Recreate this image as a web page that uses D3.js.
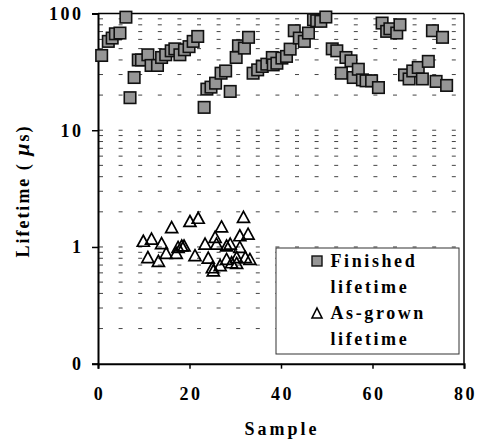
<!DOCTYPE html>
<html><head><meta charset="utf-8">
<script src="https://cdn.jsdelivr.net/npm/d3@7"></script>
<style>
html,body{margin:0;padding:0;background:#fff;}
</style></head>
<body><svg id="c" width="480" height="444"></svg>
<script>
// Finished lifetime (squares)
const finishedX = [0.8,2.25,3.1,3.8,4.8,6.1,7.0,7.9,8.8,9.5,10.9,11.6,13.0,13.9,14.8,16.0,16.8,17.9,18.9,19.9,20.8,21.8,
  23.2,23.8,24.7,25.7,26.9,27.9,28.9,30.2,30.7,32.0,32.9,33.9,34.9,35.9,36.9,38.1,38.3,39.1,40.2,41.2,42.0,42.9,44.0,45.1,46.0,
  47.1,47.8,48.7,49.8,51.2,52.2,53.2,54.2,55.3,55.8,56.9,57.8,58.6,59.8,61.3,62.1,63.1,63.8,65.3,66.0,67.0,68.0,68.8,70.0,70.9,
  72.2,73.1,73.9,75.3,76.2];
const finishedY = [43.7,57.7,61.6,67,68,93,19,28.3,40,40,44.3,35.9,35.9,42,44.3,47.9,49.8,44.3,48.9,52,57.7,63.6,
  15.7,22.5,23.4,25.3,30.8,32.2,21.5,42,52.9,50.5,62.5,30.8,32.9,35.2,36.8,42,36.3,37.5,41.5,42.9,49.5,71.2,61.6,57.7,68,
  88.5,86.7,85.7,93.3,49.8,47.9,30.8,42,39.3,28.3,33.3,27,26.5,26.5,23.2,82.8,70.3,74,68,80.1,29.8,27.5,32.2,34.5,27.5,
  38.9,71.2,26.2,62.5,24.2];
// As-grown lifetime (triangles)
const grownX = [9.9,11.7,10.9,13.9,13.2,16.1,14.9,17.5,17.1,18.3,18.8,20.1,21.9,21.2,23.4,24.1,25.0,25.2,25.6,25.9,26.7,27.0,
  28.1,28.1,28.9,29.2,30.3,30.3,31.0,31.0,31.8,32.2,32.8,33.2];
const grownY = [1.13,1.18,0.82,1.08,0.76,1.48,0.89,1.0,0.89,1.03,1.03,1.67,1.78,0.85,1.07,0.81,0.67,0.63,1.22,1.07,0.70,1.5,
  1.03,0.79,1.07,0.74,0.82,0.73,1.26,1.0,1.81,0.82,1.30,0.79];
const xTicks = [0,20,40,60,80];
const yTicks = [0.1,1,10,100];
const yTickLabels = ["0","1","10","100"];
const seriesNames = [["Finished","lifetime"],["As-grown","lifetime"]];

const FONT = "Liberation Serif";
const svg = d3.select("#c");
const L=98, R=464, T=13.5, B=363.7;
const x = d3.scaleLinear().domain([0,80]).range([L,R]);
const y = d3.scaleLog().domain([0.1,100]).range([B,T]);

// minor + major dashed gridlines
const grid = [];
for (let e=-1;e<=1;e++){ for (let m=1;m<=9;m++){ const v=m*Math.pow(10,e); if(v>0.1+1e-9 && v<100-1e-9) grid.push(v);} }
svg.append("g").selectAll("line").data(grid).join("line")
  .attr("x1",L+1).attr("x2",R-1).attr("y1",d=>y(d)).attr("y2",d=>y(d))
  .attr("stroke","#444").attr("stroke-width",1).attr("stroke-dasharray","4,15.6");

// frame
svg.append("line").attr("x1",L).attr("x2",R).attr("y1",T).attr("y2",T).attr("stroke","#000").attr("stroke-width",1.5);
svg.append("line").attr("x1",R).attr("x2",R).attr("y1",T).attr("y2",B).attr("stroke","#000").attr("stroke-width",1.5);

// axes
const xAxis = d3.axisBottom(x).tickValues(xTicks).tickSize(5).tickFormat("");
const gx = svg.append("g").attr("transform",`translate(0,${B})`).call(xAxis);
gx.select(".domain").attr("stroke","#000").attr("stroke-width",2);
gx.selectAll(".tick line").attr("stroke","#000").attr("stroke-width",1.5);
const yAxis = d3.axisLeft(y).tickValues(yTicks).tickSize(6).tickFormat("");
const gy = svg.append("g").attr("transform",`translate(${L},0)`).call(yAxis);
gy.select(".domain").attr("stroke","#000").attr("stroke-width",2);
gy.selectAll(".tick line").attr("stroke","#000").attr("stroke-width",1.5);

function T_(sel){ return sel.attr("font-family",FONT).attr("font-weight","bold").attr("fill","#000"); }

// tick labels
T_(svg.append("g").selectAll("text").data(xTicks).join("text"))
  .attr("x",d=>x(d)+1.5).attr("y",400).attr("text-anchor","middle")
  .attr("font-size",18).style("letter-spacing","2.5px").text(d=>d);
T_(svg.append("g").selectAll("text").data(yTicks).join("text"))
  .attr("x",83.5).attr("y",d=>y(d)+6.3).attr("text-anchor","end")
  .attr("font-size",18).style("letter-spacing","2.5px").text((d,i)=>yTickLabels[i]);

// axis titles
T_(svg.append("text")).attr("x",282).attr("y",435).attr("text-anchor","middle")
  .attr("font-size",18).style("letter-spacing","3px").text("Sample");
const yl = T_(svg.append("text")).attr("transform","translate(29,191) rotate(-90)").attr("text-anchor","middle")
  .attr("font-size",18).style("letter-spacing","2px");
yl.append("tspan").text("Lifetime ( ");
yl.append("tspan").attr("font-style","italic").attr("font-size",22).text("μ");
yl.append("tspan").text("s)");

// triangles
const tri = "M0,-5.5L6,5.5L-6,5.5Z";
svg.append("g").selectAll("path").data(grownX).join("path")
  .attr("d",tri).attr("transform",(d,i)=>`translate(${x(d)},${y(grownY[i])})`)
  .attr("fill","none").attr("stroke","#000").attr("stroke-width",1.7);

// squares
svg.append("g").selectAll("rect").data(finishedX).join("rect")
  .attr("x",d=>x(d)-5.75).attr("y",(d,i)=>y(finishedY[i])-5.75).attr("width",11.5).attr("height",11.5)
  .attr("fill","#969696").attr("stroke","#111").attr("stroke-width",1.6);

// legend
const lg = svg.append("g");
lg.append("rect").attr("x",276).attr("y",248).attr("width",183).attr("height",106)
  .attr("fill","#fff").attr("stroke","#333").attr("stroke-width",1);
lg.append("rect").attr("x",312).attr("y",256).attr("width",10).attr("height",10)
  .attr("fill","#969696").attr("stroke","#111").attr("stroke-width",1.4);
lg.append("path").attr("d","M0,-5L5,5L-5,5Z").attr("transform","translate(317,313)")
  .attr("fill","none").attr("stroke","#000").attr("stroke-width",1.6);
const lines = [[seriesNames[0][0],267],[seriesNames[0][1],293],[seriesNames[1][0],319],[seriesNames[1][1],345]];
T_(lg.selectAll("text.l").data(lines).join("text").attr("class","l"))
  .attr("x",330.5).attr("y",d=>d[1]).attr("font-size",18).style("letter-spacing","2.6px").text(d=>d[0]);
</script></body></html>
